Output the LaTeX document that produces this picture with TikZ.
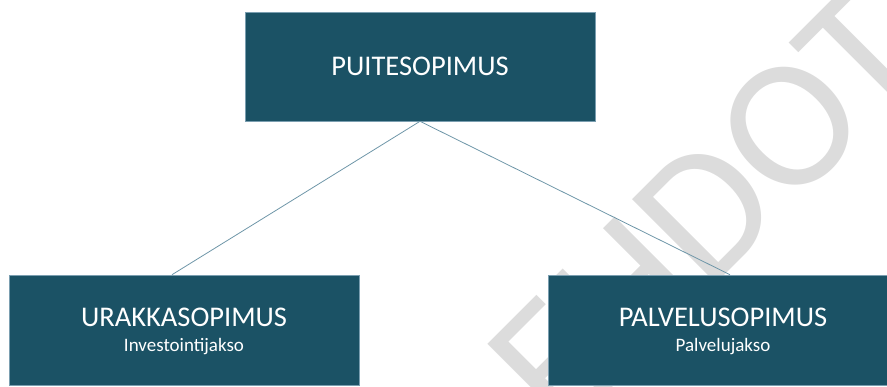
\documentclass[tikz,border=0pt]{standalone}
\usepackage{fontspec}
\setmainfont{Carlito}
\usetikzlibrary{calc}
\definecolor{sopimus}{HTML}{1B5265}
\definecolor{reuna}{HTML}{7A9EB0}
\definecolor{yhteys}{HTML}{6E96A8}
\definecolor{vesileima}{HTML}{DCDCDC}
\tikzset{
  sopimusbox/.style={draw=reuna, line width=0.6pt, fill=sopimus, text=white,
    minimum width=350pt, minimum height=109pt, inner sep=0pt, align=center,
    font=\fontsize{19}{25}\selectfont, text depth=0pt},
  yhteysviiva/.style={draw=yhteys, line width=0.8pt}
}
\newcommand{\otsikko}[1]{{\fontsize{28.5}{25}\selectfont #1}}

\begin{document}
\begin{tikzpicture}[x=1pt, y=-1pt]
		%%%%% START %%%%%
		\useasboundingbox (0, 0) rectangle (887, 386);
		\clip (0, 0) rectangle (887, 386);
		
		\node[rotate=45, text=vesileima, font=\fontsize{185}{185}\selectfont, inner sep=0pt] (leima) at (779, 137) {EHDOTUS};
		
		\node[sopimusbox] (puite) at (420, 66.5) {\otsikko{PUITESOPIMUS}};
		\node[sopimusbox, minimum height=110pt] (urakka) at (184, 330) {\otsikko{URAKKASOPIMUS}\\Investointijakso};
		\node[sopimusbox, minimum height=110pt] (palvelu) at (723, 330) {\otsikko{PALVELUSOPIMUS}\\Palvelujakso};
		
		\draw[yhteysviiva] (puite.south) -- ([xshift=-12pt]urakka.north);
		\draw[yhteysviiva] (puite.south) -- ([xshift=7pt]palvelu.north);
		
		%%%%% END %%%%%
\end{tikzpicture}
\end{document}
